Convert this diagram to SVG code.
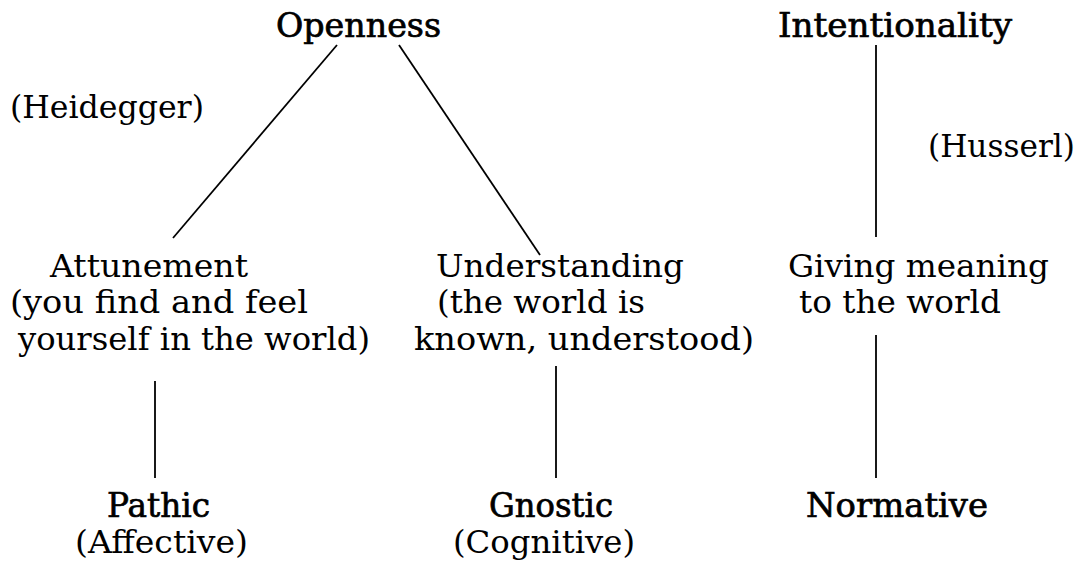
<svg xmlns="http://www.w3.org/2000/svg" width="1078" height="565" viewBox="0 0 1078 565">
<style>
text{font-family:"DejaVu Serif","Liberation Serif",serif;font-size:31px;fill:#000}
.h{font-size:33px;stroke:#000;stroke-width:0.7}
line{stroke:#000;stroke-width:1.8}
</style>
<rect width="1078" height="565" fill="#fff"/>
<g id="connectors">
<line x1="337" y1="45" x2="173" y2="238"/>
<line x1="399" y1="45" x2="540" y2="255"/>
<line x1="876" y1="45" x2="876" y2="237"/>
<line x1="155" y1="381" x2="155" y2="478"/>
<line x1="556" y1="366" x2="556" y2="478"/>
<line x1="876" y1="335" x2="876" y2="478"/>
</g>
<g id="openness"><text class="h" x="276" y="37" textLength="165" lengthAdjust="spacingAndGlyphs">Openness</text></g>
<g id="intentionality"><text class="h" x="778" y="37" textLength="234" lengthAdjust="spacingAndGlyphs">Intentionality</text></g>
<g id="heidegger"><text x="10" y="118" textLength="194" lengthAdjust="spacingAndGlyphs">(Heidegger)</text></g>
<g id="husserl"><text x="928" y="157" textLength="147" lengthAdjust="spacingAndGlyphs">(Husserl)</text></g>
<g id="attunement">
<text x="50" y="277" textLength="198" lengthAdjust="spacingAndGlyphs">Attunement</text>
<text x="10" y="313" textLength="298" lengthAdjust="spacingAndGlyphs">(you find and feel</text>
<text x="18" y="350" textLength="352" lengthAdjust="spacingAndGlyphs">yourself in the world)</text>
</g>
<g id="understanding">
<text x="436" y="277" textLength="248" lengthAdjust="spacingAndGlyphs">Understanding</text>
<text x="437" y="313" textLength="208" lengthAdjust="spacingAndGlyphs">(the world is</text>
<text x="414" y="350" textLength="340" lengthAdjust="spacingAndGlyphs">known, understood)</text>
</g>
<g id="giving">
<text x="788" y="277" textLength="261" lengthAdjust="spacingAndGlyphs">Giving meaning</text>
<text x="799" y="313" textLength="202" lengthAdjust="spacingAndGlyphs">to the world</text>
</g>
<g id="pathic">
<text class="h" x="107" y="517" textLength="103" lengthAdjust="spacingAndGlyphs">Pathic</text>
<text x="75" y="553" textLength="173" lengthAdjust="spacingAndGlyphs">(Affective)</text>
</g>
<g id="gnostic">
<text class="h" x="489" y="517" textLength="124" lengthAdjust="spacingAndGlyphs">Gnostic</text>
<text x="453" y="553" textLength="182" lengthAdjust="spacingAndGlyphs">(Cognitive)</text>
</g>
<g id="normative"><text class="h" x="806" y="517" textLength="182" lengthAdjust="spacingAndGlyphs">Normative</text></g>
</svg>
